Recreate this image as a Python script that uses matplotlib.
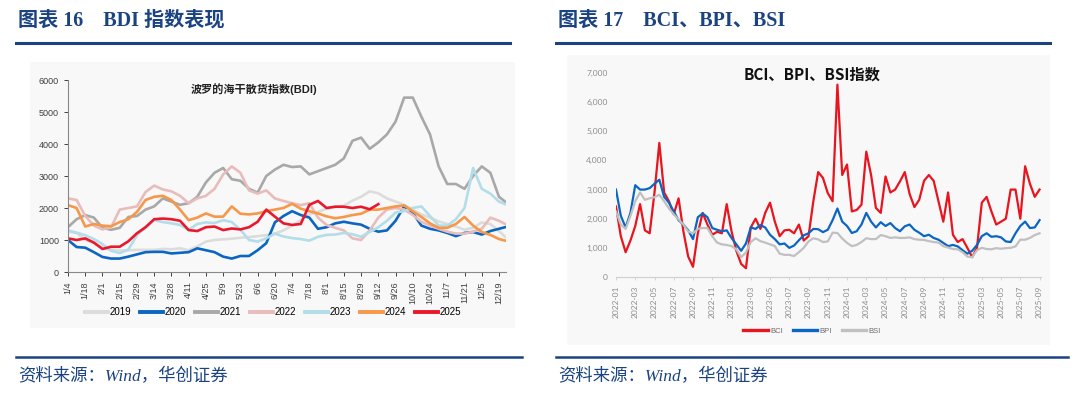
import numpy as np
import matplotlib
matplotlib.use("Agg")
import matplotlib.pyplot as plt
from matplotlib.lines import Line2D
from matplotlib.patches import Rectangle

plt.rcParams['font.family'] = ['Liberation Sans', 'Noto Sans CJK SC']

# ---- left chart: BDI by year, weekly readings from 1/4 ----
week_days = list(range(0, 351, 7)) + [355]
bdi_ticks = ['1/4', '1/18', '2/1', '2/15', '2/29', '3/14', '3/28', '4/11', '4/25', '5/9',
             '5/23', '6/6', '6/20', '7/4', '7/18', '8/1', '8/15', '8/29', '9/12', '9/26',
             '10/10', '10/24', '11/7', '11/21', '12/5', '12/19']
years = ['2019', '2020', '2021', '2022', '2023', '2024', '2025']

bdi_2019 = [1260, 1220, 1000, 900, 750, 690, 670, 680, 690, 690, 690, 720, 710, 740, 680, 800,
            950, 1000, 1020, 1040, 1070, 1090, 1120, 1150, 1200, 1300, 1450, 1620, 1800, 1880,
            1980, 2040, 2070, 2230, 2350, 2520, 2460, 2300, 2200, 2100, 1950, 1800, 1700, 1580,
            1500, 1420, 1320, 1380, 1550, 1500, 1280, 1100]
bdi_2020 = [1000, 780, 760, 620, 470, 420, 420, 480, 550, 620, 630, 630, 580, 600, 620, 740,
            680, 620, 480, 420, 500, 500, 680, 900, 1550, 1750, 1900, 1780, 1700, 1350, 1400,
            1520, 1570, 1520, 1480, 1350, 1260, 1300, 1600, 2050, 1850, 1450, 1350, 1300, 1220,
            1120, 1220, 1250, 1170, 1280, 1350, 1400]
bdi_2021 = [1400, 1650, 1780, 1700, 1380, 1320, 1380, 1720, 1750, 1950, 2050, 2300, 2200, 2100,
            2150, 2350, 2800, 3100, 3250, 2900, 2850, 2600, 2480, 3000, 3200, 3350, 3280, 3300,
            3050, 3150, 3250, 3350, 3550, 4100, 4200, 3850, 4050, 4300, 4700, 5450, 5450, 4850,
            4300, 3300, 2750, 2750, 2600, 3000, 3300, 3100, 2350, 2200]
bdi_2022 = [2300, 2250, 1750, 1450, 1330, 1400, 1950, 2000, 2050, 2500, 2700, 2580, 2520, 2380,
            2150, 2300, 2380, 2600, 3050, 3300, 3100, 2550, 2450, 2550, 2300, 2220, 2150, 2090,
            2150, 1700, 1470, 1380, 1300, 1050, 1000, 1300, 1700, 1950, 2000, 1950, 1780, 1570,
            1450, 1350, 1260, 1200, 1200, 1260, 1350, 1700, 1600, 1500]
bdi_2023 = [1300, 1230, 1150, 1030, 870, 660, 590, 700, 1150, 1400, 1620, 1560, 1520, 1470,
            1320, 1500, 1550, 1530, 1620, 1560, 1320, 1000, 950, 1050, 1200, 1110, 1060, 1030,
            980, 1100, 1160, 1170, 1220, 1180, 1100, 1250, 1400, 1600, 1860, 1900, 2000, 2050,
            1750, 1450, 1450, 1650, 2000, 3250, 2600, 2450, 2200, 2120]
bdi_2024 = [2090, 2000, 1420, 1500, 1450, 1430, 1560, 1650, 1880, 2250, 2350, 2380, 2250, 1950,
            1620, 1700, 1830, 1730, 1730, 2050, 1820, 1800, 1830, 1900, 1950, 2000, 2130, 1980,
            1900, 1830, 1740, 1680, 1720, 1780, 1820, 1950, 1950, 2000, 2050, 2080, 1900, 1720,
            1520, 1380, 1380, 1500, 1720, 1450, 1250, 1160, 1030, 980]
bdi_2025 = [1050, 1000, 1050, 920, 720, 790, 790, 960, 1210, 1400, 1650, 1670, 1650, 1600,
            1310, 1280, 1400, 1420, 1310, 1360, 1330, 1400, 1570, 1950, 1730, 1520, 1470, 1500,
            2100, 2220, 2000, 2040, 2040, 2000, 2040, 1960, 2120]
bdi_series = [bdi_2019, bdi_2020, bdi_2021, bdi_2022, bdi_2023, bdi_2024, bdi_2025]
bdi_colors = ['#dcdcdc', '#0a66c2', '#a8a8a8', '#e8bcbb', '#b2dde9', '#f7974a', '#e8192c']

# ---- right chart: BCI / BPI / BSI, half-month readings from 2022-01 ----
half_months = np.arange(89) / 2.0
month_ticks = ['2022-01', '2022-03', '2022-05', '2022-07', '2022-09', '2022-11',
               '2023-01', '2023-03', '2023-05', '2023-07', '2023-09', '2023-11',
               '2024-01', '2024-03', '2024-05', '2024-07', '2024-09', '2024-11',
               '2025-01', '2025-03', '2025-05', '2025-07', '2025-09']
bci = [2420, 1400, 850, 1250, 1750, 2500, 1600, 1500, 2900, 4600, 2900, 2600, 2150, 2700,
       1570, 700, 350, 1500, 2200, 1800, 1450, 1550, 1500, 2500, 1570, 900, 450, 300, 1700,
       2000, 1650, 2200, 2550, 1900, 1400, 1600, 1620, 1500, 1800, 1250, 1400, 2600, 3600,
       3400, 2880, 2600, 6600, 3500, 3860, 2250, 2300, 2480, 4300, 3500, 2370, 2200, 3450,
       2900, 3000, 3280, 3600, 2850, 2400, 2650, 3300, 3500, 3300, 2600, 1900, 2900, 1450,
       1200, 1300, 1000, 680, 1000, 2550, 2750, 2250, 1800, 1900, 2000, 3000, 3000, 2000,
       3800, 3200, 2750, 3000]
bpi = [3000, 2100, 1700, 2200, 3150, 3000, 3000, 3050, 3200, 3340, 2750, 2550, 2250, 1950,
       1800, 1600, 1300, 2050, 2180, 2050, 1680, 1620, 1570, 1600, 1340, 1120, 900, 1150,
       1700, 1650, 1780, 1700, 1450, 1300, 1120, 1150, 1000, 1080, 1260, 1430, 1500, 1650,
       1640, 1540, 1620, 1950, 2350, 1900, 1750, 1510, 1570, 1800, 2200, 1900, 1700, 1880,
       1750, 1850, 1680, 1570, 1740, 1800, 1620, 1520, 1400, 1450, 1340, 1280, 1170, 1060,
       1100, 1050, 920, 800, 900, 1100, 1400, 1500, 1380, 1400, 1360, 1220, 1200, 1500, 1750,
       1900, 1680, 1700, 1950]
bsi = [2250, 1800, 1650, 2100, 2600, 2900, 2650, 2700, 2740, 2820, 2600, 2350, 2150, 1980,
       1800, 1560, 1500, 1650, 1680, 1680, 1400, 1180, 1120, 1100, 1060, 950, 680, 840, 1200,
       1330, 1230, 1180, 1120, 1060, 800, 760, 760, 720, 850, 1000, 1220, 1330, 1290, 1200,
       1220, 1520, 1510, 1320, 1170, 1060, 1100, 1200, 1330, 1300, 1300, 1440, 1400, 1340,
       1360, 1340, 1340, 1360, 1300, 1280, 1270, 1230, 1200, 1180, 1060, 1010, 960, 950, 850,
       700, 680, 920, 1000, 960, 950, 990, 970, 990, 1000, 1050, 1280, 1280, 1340, 1440, 1500]
idx_names = ['BCI', 'BPI', 'BSI']
idx_colors = ['#e8141e', '#0b66c3', '#c0c0c0']

W, H = 1080, 398
fig = plt.figure(figsize=(W / 100, H / 100), dpi=100)


def fx(px):
    return px / W


def fy(py):
    return 1 - py / H


navy = '#1b4382'
serif_cjk = ['Liberation Serif', 'Noto Sans CJK SC']

# panel backgrounds (behind the axes)
fig.patches.append(Rectangle((fx(30), fy(328)), fx(515) - fx(30), fy(62) - fy(328),
                             transform=fig.transFigure, facecolor='#f8f8f8', edgecolor='none', zorder=-5))
fig.patches.append(Rectangle((fx(567), fy(345)), fx(1050) - fx(567), fy(55) - fy(345),
                             transform=fig.transFigure, facecolor='#f8f8f8', edgecolor='none', zorder=-5))

# headers, rules and sources
fig.text(fx(18), fy(21), '图表 16    BDI 指数表现', family=serif_cjk, weight='bold',
         fontsize=14.5, color=navy, va='center', ha='left')
fig.text(fx(558), fy(21), '图表 17    BCI、BPI、BSI', family=serif_cjk, weight='bold',
         fontsize=14.5, color=navy, va='center', ha='left')
for x0, x1 in [(16, 510), (556, 1050)]:
    fig.add_artist(Line2D([fx(x0), fx(x1)], [fy(43), fy(43)], color=navy, lw=2.2))
for x0, x1 in [(16, 522), (556, 1068)]:
    fig.add_artist(Line2D([fx(x0), fx(x1)], [fy(357), fy(357)], color=navy, lw=1.8))
fig.text(fx(18), fy(377), '资料来源：Wind，华创证券', family=serif_cjk, style='italic',
         fontsize=12.5, color=navy, va='center', ha='left')
fig.text(fx(558), fy(377), '资料来源：Wind，华创证券', family=serif_cjk, style='italic',
         fontsize=12.5, color=navy, va='center', ha='left')

# ---- left axes ----
ax = fig.add_axes([fx(68), fy(272), fx(506) - fx(68), fy(80) - fy(272)])
ax.set_facecolor('none')
for vals, col in zip(bdi_series, bdi_colors):
    ax.plot(week_days[:len(vals)], vals, color=col, lw=1.9, solid_joinstyle='round')
ax.set_xlim(0, 355.7)
ax.set_ylim(0, 6000)
ax.set_yticks(range(0, 6001, 1000))
ax.set_xticks(range(0, 351, 14))
ax.set_xticklabels(bdi_ticks, rotation=90)
ax.tick_params(labelsize=6.5, colors='#404040', length=3, width=0.7)
for s in ['top', 'right']:
    ax.spines[s].set_visible(False)
for s in ['left', 'bottom']:
    ax.spines[s].set_color('#888888')
    ax.spines[s].set_linewidth(0.8)
ax.text(0.425, 0.955, '波罗的海干散货指数(BDI)', transform=ax.transAxes, ha='center', va='center',
        fontsize=8, color='#222222', weight='bold')
handles = [Line2D([], [], color=c, lw=2.8) for c in bdi_colors]
fig.legend(handles, years, loc='center', bbox_to_anchor=(fx(273), fy(312)), ncol=7,
           frameon=False, fontsize=7, handlelength=2.4, handletextpad=0.15, columnspacing=0.9)

# ---- right axes ----
ax2 = fig.add_axes([fx(616), fy(277), fx(1041) - fx(616), fy(73) - fy(277)])
ax2.set_facecolor('none')
for vals, col in zip([bci, bpi, bsi], idx_colors):
    ax2.plot(half_months[:len(vals)], vals, color=col, lw=1.6, solid_joinstyle='round')
ax2.set_xlim(0, 44.15)
ax2.set_ylim(0, 7000)
ax2.set_yticks(range(0, 7001, 1000))
ax2.set_yticklabels([f'{v:,}' for v in range(0, 7001, 1000)], family=['Lato', 'DejaVu Sans'])
ax2.set_xticks(range(0, 45, 2))
ax2.set_xticklabels(month_ticks, rotation=90, family=['Lato', 'DejaVu Sans'])
ax2.tick_params(axis='y', length=0, labelsize=6, colors='#8c8c8c', pad=6)
ax2.tick_params(axis='x', length=2.5, width=0.6, color='#d0d0d0', labelsize=6, labelcolor='#8c8c8c')
for s in ['top', 'right', 'left']:
    ax2.spines[s].set_visible(False)
ax2.spines['bottom'].set_color('#d0d0d0')
ax2.spines['bottom'].set_linewidth(0.8)
fig.text(fx(812), fy(75), 'BCI、BPI、BSI指数', ha='center', va='center', fontsize=11,
         weight='bold', color='#111111', family=['Noto Sans CJK SC'])
handles2 = [Line2D([], [], color=c, lw=2.4) for c in idx_colors]
fig.legend(handles2, idx_names, loc='center', bbox_to_anchor=(fx(812), fy(331)), ncol=3,
           frameon=False, fontsize=5.5, handlelength=3.2, handletextpad=0.3, columnspacing=1.3,
           labelcolor='#6b6b6b')

fig.savefig('out.png', dpi=100)
